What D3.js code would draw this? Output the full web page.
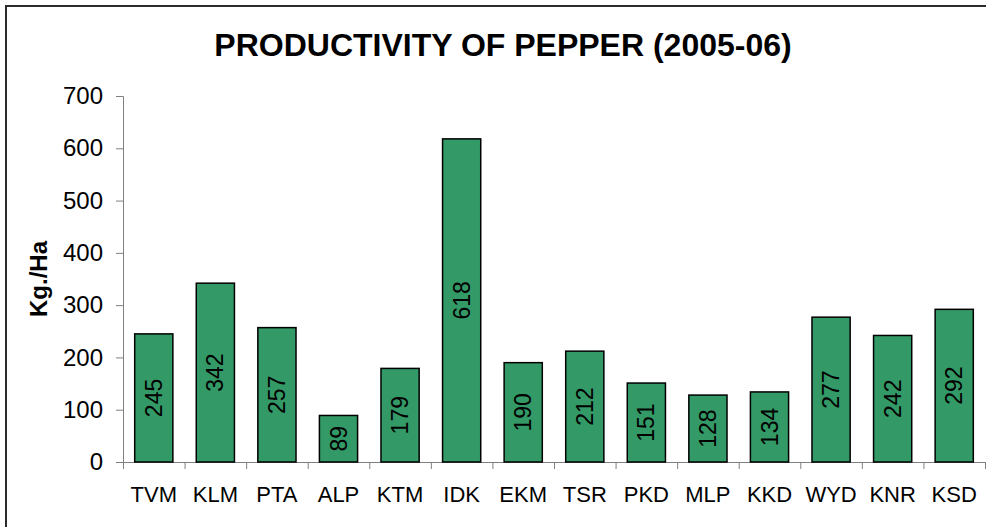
<!DOCTYPE html>
<html>
<head>
<meta charset="utf-8">
<script src="https://cdn.jsdelivr.net/npm/d3@7"></script>
<style>
  body { margin: 0; background: #fff; }
  svg { display: block; font-family: "Liberation Sans", Arial, sans-serif; }
</style>
</head>
<body>
<div id="chart"></div>
<script>
// данные с картинки
let districts = ['TVM', 'KLM', 'PTA', 'ALP', 'KTM', 'IDK', 'EKM', 'TSR', 'PKD', 'MLP', 'KKD', 'WYD', 'KNR', 'KSD'];
let productivity = [245, 342, 257, 89, 179, 618, 190, 212, 151, 128, 134, 277, 242, 292];
let yTicks = [0, 100, 200, 300, 400, 500, 600, 700];

let width = 986, height = 527;
let margin = {left: 123, right: 1, top: 96, bottom: 65}; // область графика 123..985, 96..462

let svg = d3.select('#chart').append('svg')
  .attr('width', width)
  .attr('height', height);

// рамка вокруг диаграммы (уходит за правый и нижний край)
svg.append('rect')
  .attr('x', 6).attr('y', 6)
  .attr('width', 1100).attr('height', 700)
  .attr('fill', 'none')
  .attr('stroke', '#2b2b2b')
  .attr('stroke-width', 2);

let x = d3.scaleBand()
  .domain(districts)
  .range([margin.left, width - margin.right])
  .paddingInner(0.38)
  .paddingOuter(0.19);

let xEdges = d3.scaleLinear()	// границы категорий для засечек
  .domain([0, districts.length])
  .range([margin.left, width - margin.right]);

let y = d3.scaleLinear()
  .domain([0, 700])
  .range([height - margin.bottom, margin.top]);

// заголовок
svg.append('text')
  .attr('x', 503)
  .attr('y', 56)
  .attr('text-anchor', 'middle')
  .style('font-size', '32px')
  .style('font-weight', 'bold')
  .text('PRODUCTIVITY OF PEPPER (2005-06)');

// ось Y
let yAxis = svg.append('g')
  .attr('transform', 'translate(' + margin.left + ',0)')
  .call(d3.axisLeft(y).tickValues(yTicks).tickSize(7).tickPadding(13));
yAxis.selectAll('text').style('font-size', '24px').attr('fill', '#000');
yAxis.selectAll('line, path').attr('stroke', '#808080');

// ось X: засечки на границах
let xAxis = svg.append('g')
  .attr('transform', 'translate(0,' + y(0) + ')')
  .call(d3.axisBottom(xEdges).ticks(districts.length).tickSize(7).tickFormat(''));
xAxis.selectAll('line, path').attr('stroke', '#808080');

// подписи категорий
svg.append('g').selectAll('text')
  .data(districts)
  .join('text')
  .attr('x', d => x(d) + x.bandwidth() / 2)
  .attr('y', 502)
  .attr('text-anchor', 'middle')
  .style('font-size', '22px')
  .text(d => d);

// подпись оси
svg.append('text')
  .attr('transform', 'translate(47,' + (y(350)) + ') rotate(-90)')
  .attr('text-anchor', 'middle')
  .style('font-size', '24px')
  .style('font-weight', 'bold')
  .text('Kg./Ha');

// столбцы
svg.append('g').selectAll('rect')
  .data(productivity)
  .join('rect')
  .attr('x', (d, i) => x(districts[i]))
  .attr('y', d => y(d))
  .attr('width', x.bandwidth())
  .attr('height', d => y(0) - y(d))
  .attr('fill', '#339966')
  .attr('stroke', '#000')
  .attr('stroke-width', 1.5);

// значения внутри столбцов
svg.append('g').selectAll('text')
  .data(productivity)
  .join('text')
  .attr('transform', (d, i) => 'translate(' + (x(districts[i]) + x.bandwidth() / 2) + ',' + y(d / 2) + ') rotate(-90)')
  .attr('text-anchor', 'middle')
  .attr('dy', '0.35em')
  .style('font-size', '23px')
  .text(d => d);
</script>
</body>
</html>
